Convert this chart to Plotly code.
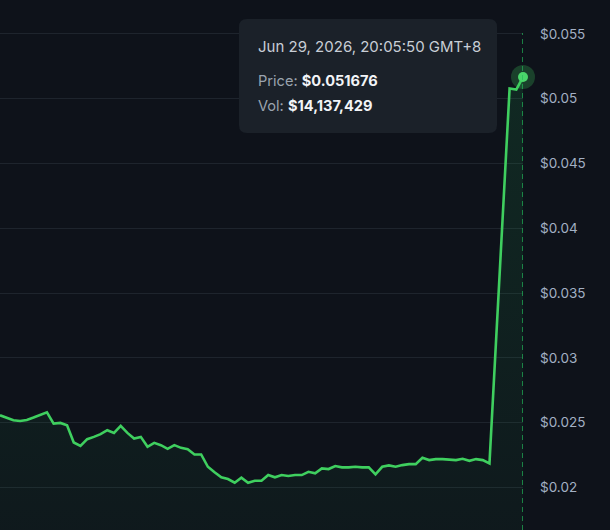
import plotly.graph_objects as go

# ---- data ----
SAMPLE_INDEX = list(range(74)) + [76, 77, 78]
PRICE = [
    0.025562, 0.025385, 0.025177, 0.025123, 0.025200, 0.025385, 0.025585, 0.025792,
    0.024923, 0.024969, 0.024792, 0.023462, 0.023200, 0.023715, 0.023892, 0.024100,
    0.024408, 0.024200, 0.024738, 0.024200, 0.023769, 0.023892, 0.023123, 0.023431,
    0.023254, 0.022969, 0.023254, 0.023046, 0.022946, 0.022538, 0.022538, 0.021585,
    0.021154, 0.020769, 0.020638, 0.020354, 0.020738, 0.020354, 0.020508, 0.020508,
    0.020946, 0.020769, 0.020946, 0.020869, 0.020946, 0.020946, 0.021200, 0.021077,
    0.021462, 0.021408, 0.021638, 0.021538, 0.021538, 0.021585, 0.021538, 0.021538,
    0.021000, 0.021585, 0.021692, 0.021585, 0.021715, 0.021792, 0.021792, 0.022277,
    0.022100, 0.022177, 0.022177, 0.022154, 0.022100, 0.022200, 0.022046, 0.022177,
    0.022100, 0.021846,
    0.050791, 0.050713, 0.051676,
]
TICK_VALUES = [0.02, 0.025, 0.03, 0.035, 0.04, 0.045, 0.05, 0.055]
TICK_LABELS = ["$0.02", "$0.025", "$0.03", "$0.035", "$0.04", "$0.045", "$0.05", "$0.055"]
TOOLTIP_DATE = "Jun 29, 2026, 20:05:50 GMT+8"
TOOLTIP_PRICE = "$0.051676"
TOOLTIP_VOL = "$14,137,429"

Y_RANGE = [0.016703, 0.057624]

BG = "#0e121a"
GRID = "#1e242d"
LINE = "#3fcf5f"
FONT = "Inter"

W, H = 610, 530
ML, MR = 0, 87
PW = W - ML - MR  # plot width in px


def px(xp):
    return (xp - ML) / PW


def py(yp):
    return 1 - yp / H


fig = go.Figure()

fig.add_trace(go.Scatter(
    x=SAMPLE_INDEX, y=PRICE, mode="lines",
    line=dict(color=LINE, width=2.6),
    fill="tozeroy",
    fillgradient=dict(
        type="vertical", start=Y_RANGE[0], stop=max(PRICE),
        colorscale=[[0, "rgba(34,197,94,0.04)"], [1, "rgba(34,197,94,0.13)"]],
    ),
    hoverinfo="skip", showlegend=False,
))

# halo + point on last sample
fig.add_trace(go.Scatter(
    x=[SAMPLE_INDEX[-1]], y=[PRICE[-1]], mode="markers",
    marker=dict(size=24, color="rgba(63,207,95,0.25)", line=dict(width=0)),
    hoverinfo="skip", showlegend=False, cliponaxis=False,
))
fig.add_trace(go.Scatter(
    x=[SAMPLE_INDEX[-1]], y=[PRICE[-1]], mode="markers",
    marker=dict(size=10, color="#4ad66a", line=dict(width=0)),
    hoverinfo="skip", showlegend=False, cliponaxis=False,
))

# dashed crosshair
fig.add_shape(
    type="line", xref="x", yref="paper",
    x0=SAMPLE_INDEX[-1], x1=SAMPLE_INDEX[-1], y0=0, y1=py(33),
    line=dict(color="#22b95a", width=1.3, dash="5px,4px"), layer="above",
)

# tooltip box (rounded)
x0, x1, y0, y1 = px(239), px(497), py(133), py(19)
rx, ry = 8 / PW, 8 / H
path = (
    f"M {x0+rx},{y1} L {x1-rx},{y1} Q {x1},{y1} {x1},{y1-ry} "
    f"L {x1},{y0+ry} Q {x1},{y0} {x1-rx},{y0} "
    f"L {x0+rx},{y0} Q {x0},{y0} {x0},{y0+ry} "
    f"L {x0},{y1-ry} Q {x0},{y1} {x0+rx},{y1} Z"
)
fig.add_shape(type="path", xref="paper", yref="paper", path=path,
              fillcolor="#1b2129", line=dict(width=0), layer="above")

fig.add_annotation(xref="paper", yref="paper", x=px(256), y=py(47),
                   xanchor="left", yanchor="middle", showarrow=False,
                   text=TOOLTIP_DATE, font=dict(family=FONT, size=15, color="#c8ced6"))
fig.add_annotation(xref="paper", yref="paper", x=px(256), y=py(81),
                   xanchor="left", yanchor="middle", showarrow=False,
                   text=f"<span style='color:#9aa3ae'>Price: </span><b>{TOOLTIP_PRICE}</b>",
                   font=dict(family=FONT, size=14.6, color="#f2f4f7"))
fig.add_annotation(xref="paper", yref="paper", x=px(256), y=py(106),
                   xanchor="left", yanchor="middle", showarrow=False,
                   text=f"<span style='color:#9aa3ae'>Vol: </span><b>{TOOLTIP_VOL}</b>",
                   font=dict(family=FONT, size=14.6, color="#f2f4f7"))

fig.update_layout(
    width=W, height=H,
    margin=dict(l=ML, r=MR, t=0, b=0, pad=0),
    paper_bgcolor=BG, plot_bgcolor=BG,
    font=dict(family=FONT),
    hovermode=False,
    xaxis=dict(range=[SAMPLE_INDEX[0], SAMPLE_INDEX[-1]], visible=False,
               showgrid=False, zeroline=False, fixedrange=True),
    yaxis=dict(range=Y_RANGE, side="right", tickvals=TICK_VALUES, ticktext=TICK_LABELS,
               showgrid=True, gridcolor=GRID, gridwidth=1, zeroline=False,
               showline=False, ticks="", ticklabelstandoff=16,
               tickfont=dict(family=FONT, size=13.5, color="#a3b0c4"),
               fixedrange=True),
)

fig.write_html("out.html", config={"displayModeBar": False})
